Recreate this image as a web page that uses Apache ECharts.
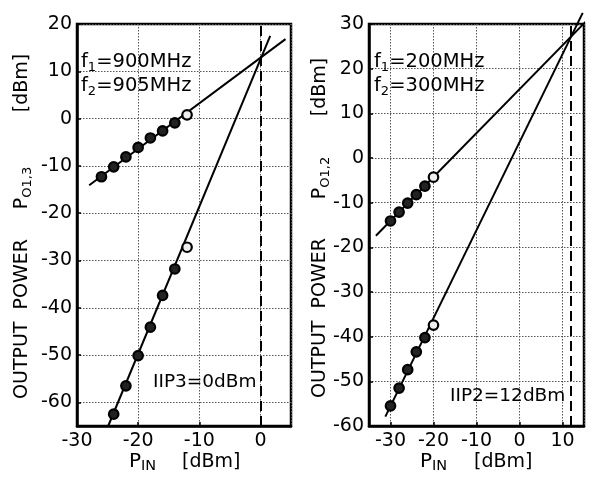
<!DOCTYPE html>
<html><head><meta charset="utf-8">
<script src="https://cdn.jsdelivr.net/npm/echarts@6/dist/echarts.min.js"></script>
<style>html,body{margin:0;padding:0;background:#fff}#c{width:593px;height:481px}</style>
</head><body><div id="c"></div>
<script>
// ---- Left panel (IIP3) data ----
const leftFundPin = [-26, -24, -22, -20, -18, -16, -14, -12];
const leftFund    = [-12.3, -10.2, -8.1, -6.1, -4.1, -2.6, -0.9, 0.8];
const leftIM3Pin  = [-24, -22, -20, -18, -16, -14, -12];
const leftIM3     = [-62.5, -56.5, -50.1, -44.1, -37.4, -31.8, -27.2];
const leftFundLineX = [-28, 4.1];
const leftFundLineY = [-14.1, 16.8];
const leftIM3LineX  = [-24.9, 1.6];
const leftIM3LineY  = [-65, 17.5];
const iip3 = 0;
const leftXTicks = [-30, 5];
const leftYTicks = [-65, 20];

// ---- Right panel (IIP2) data ----
const rightPin    = [-30, -28, -26, -24, -22, -20];
const rightFund   = [-14.1, -12.1, -10.1, -8.2, -6.3, -4.3];
const rightIM2    = [-55.5, -51.5, -47.4, -43.4, -40.2, -37.4];
const rightFundLineX = [-33.4, 16.9];
const rightFundLineY = [-17.4, 32.0];
const rightIM2LineX  = [-31.2, 14.7];
const rightIM2LineY  = [-57.9, 32.5];
const iip2 = 12;
const rightXTicks = [-35, 15];
const rightYTicks = [-60, 30];

// ---- Texts ----
const leftFreqs  = ['900MHz', '905MHz'];
const rightFreqs = ['200MHz', '300MHz'];
const leftNote  = 'IIP3=0dBm';
const rightNote = 'IIP2=12dBm';
const yTitleMain = 'OUTPUT  POWER';
const leftYSub = 'O1,3';
const rightYSub = 'O1,2';
const unitText = '[dBm]';

const FONT = 'DejaVu Sans';
const chart = echarts.init(document.getElementById('c'));

const rich = {
  a: {fontFamily: FONT, fontSize: 19.5, lineHeight: 24, color: '#000'},
  n: {fontFamily: FONT, fontSize: 18.5, lineHeight: 24, color: '#000'},
  s: {fontFamily: FONT, fontSize: 13, lineHeight: 12, verticalAlign: 'bottom', color: '#000'},
  t: {fontFamily: FONT, fontSize: 19, lineHeight: 24, color: '#000'},
  b: {fontFamily: FONT, fontSize: 20, lineHeight: 24, color: '#000'},
  u: {fontFamily: FONT, fontSize: 14.5, lineHeight: 11, verticalAlign: 'bottom', color: '#000'}
};

function pairs(xs, ys) { return xs.map((x, i) => [x, ys[i]]); }
function markers(xs, ys) {
  return xs.map((x, i) => {
    const d = {value: [x, ys[i]]};
    if (i === xs.length - 1) d.itemStyle = {color: '#eee'};
    return d;
  });
}
const lineStyle = {color: '#000', width: 2};
function lineSeries(xs, ys, xi, extra) {
  return Object.assign({
    type: 'line', xAxisIndex: xi, yAxisIndex: xi, data: pairs(xs, ys),
    symbol: 'none', clip: false, lineStyle: lineStyle, silent: true, animation: false, z: 3
  }, extra || {});
}
function scatterSeries(xs, ys, xi) {
  return {
    type: 'scatter', xAxisIndex: xi, yAxisIndex: xi, data: markers(xs, ys),
    symbol: 'circle', symbolSize: 9.5,
    itemStyle: {color: '#222', borderColor: '#000', borderWidth: 2.2, opacity: 1},
    animation: false, z: 4
  };
}
const axisCommon = {
  type: 'value',
  axisLine: {show: true, onZero: false, lineStyle: {color: '#000', width: 2.5}},
  axisTick: {show: true, inside: true, length: 4, lineStyle: {color: '#000', width: 1.5}},
  splitLine: {show: true, lineStyle: {color: '#555', type: [1.5, 1.5], width: 1}},
  axisLabel: {fontFamily: FONT, fontSize: 19, color: '#000', margin: 6}
};
function xAxis(gi, min, max, extra) {
  return Object.assign({}, axisCommon, {
    gridIndex: gi, min: min, max: max,
    axisLabel: Object.assign({}, axisCommon.axisLabel, {showMinLabel: gi === 0, showMaxLabel: false})
  }, extra || {});
}
function yAxis(gi, min, max, extra) {
  return Object.assign({}, axisCommon, {
    gridIndex: gi, min: min, max: max,
    axisLabel: Object.assign({}, axisCommon.axisLabel, {showMinLabel: gi === 1, margin: 5})
  }, extra || {});
}
function txt(x, y, parts, rot, align) {
  return {type: 'text', x: x, y: y, z: 10, rotation: rot || 0,
    style: {text: parts, rich: rich, verticalAlign: 'middle', align: align || 'left', fontFamily: FONT, fontSize: 19}};
}
const R = Math.PI / 2;

chart.setOption({
  animation: false,
  grid: [
    {left: 77, top: 24, width: 214, height: 402, show: true, borderColor: '#000', borderWidth: 2.5, backgroundColor: 'transparent'},
    {left: 369, top: 24, width: 215, height: 402, show: true, borderColor: '#000', borderWidth: 2.5, backgroundColor: 'transparent'}
  ],
  xAxis: [
    xAxis(0, leftXTicks[0], leftXTicks[1], {interval: 10}),
    xAxis(1, rightXTicks[0], rightXTicks[1], {splitNumber: 5})
  ],
  yAxis: [
    yAxis(0, leftYTicks[0], leftYTicks[1], {splitNumber: 9}),
    yAxis(1, rightYTicks[0], rightYTicks[1], {interval: 10})
  ],
  series: [
    lineSeries(leftFundLineX, leftFundLineY, 0),
    lineSeries(leftIM3LineX, leftIM3LineY, 0, {
      markLine: {symbol: 'none', silent: true, label: {show: false},
        lineStyle: {color: '#000', width: 2, type: [10, 5]}, data: [{xAxis: iip3}]}
    }),
    scatterSeries(leftFundPin, leftFund, 0),
    scatterSeries(leftIM3Pin, leftIM3, 0),
    lineSeries(rightFundLineX, rightFundLineY, 1),
    lineSeries(rightIM2LineX, rightIM2LineY, 1, {
      markLine: {symbol: 'none', silent: true, label: {show: false},
        lineStyle: {color: '#000', width: 2, type: [10, 5]}, data: [{xAxis: iip2}]}
    }),
    scatterSeries(rightPin, rightFund, 1),
    scatterSeries(rightPin, rightIM2, 1)
  ],
  graphic: [
    txt(81, 62, '{a|f}{s|1}{a|=' + leftFreqs[0] + '}'),
    txt(81, 86, '{a|f}{s|2}{a|=' + leftFreqs[1] + '}'),
    txt(374, 62, '{a|f}{s|1}{a|=' + rightFreqs[0] + '}'),
    txt(374, 86, '{a|f}{s|2}{a|=' + rightFreqs[1] + '}'),
    txt(153, 382, '{n|' + leftNote + '}'),
    txt(450, 396, '{n|' + rightNote + '}'),
    // x titles
    txt(129, 462, '{b|P}{u|IN}'),
    txt(182, 462, '{t|' + unitText + '}'),
    txt(420, 462, '{b|P}{u|IN}'),
    txt(474, 462, '{t|' + unitText + '}'),
    // y titles (rotated)
    txt(22, 319, '{t|' + yTitleMain + '}', R, 'center'),
    txt(22, 188, '{t|P}{s|' + leftYSub + '}', R, 'center'),
    txt(22, 83, '{t|' + unitText + '}', R, 'center'),
    txt(320, 318, '{t|' + yTitleMain + '}', R, 'center'),
    txt(320, 178, '{t|P}{s|' + rightYSub + '}', R, 'center'),
    txt(320, 87, '{t|' + unitText + '}', R, 'center')
  ]
});
</script></body></html>
